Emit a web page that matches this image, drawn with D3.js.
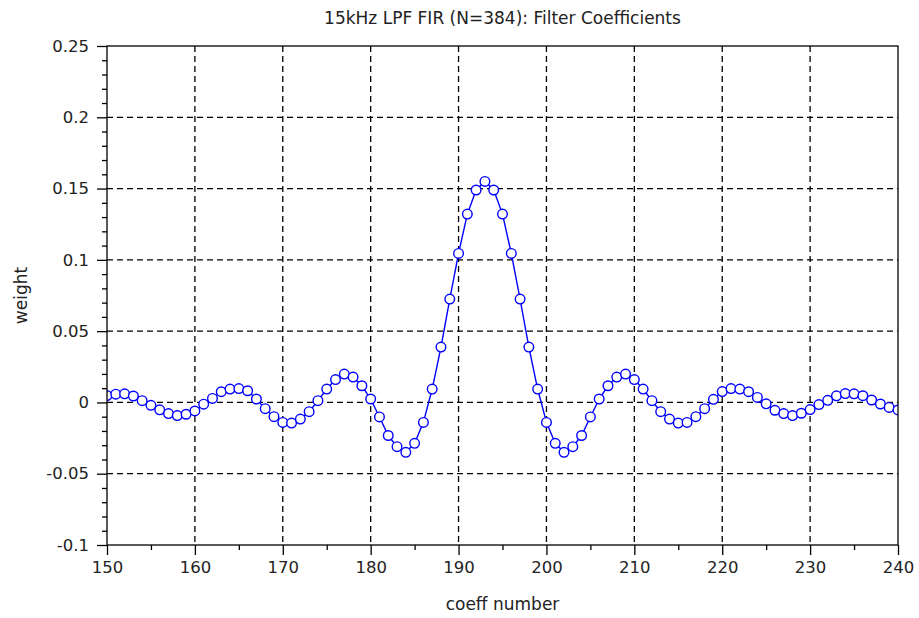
<!DOCTYPE html>
<html>
<head>
<meta charset="utf-8">
<script src="https://cdn.jsdelivr.net/npm/d3@7"></script>
<style>
  html, body { margin: 0; padding: 0; background: #fff; }
  svg text { font-family: "DejaVu Sans", sans-serif; fill: #222; }
</style>
</head>
<body>
<svg id="chart" width="919" height="618"></svg>
<script>
// ---- data ----
const coeffIndex = d3.range(150, 241);
const weights = [
  0.0048, 0.0058, 0.0060, 0.0045, 0.0012, -0.0020, -0.0052, -0.0078, -0.0092, -0.0083,
  -0.0060, -0.0012, 0.0028, 0.0075, 0.0094, 0.0097, 0.0082, 0.0024, -0.0044, -0.0100,
  -0.0140, -0.0145, -0.0117, -0.0065, 0.0012, 0.0094, 0.0160, 0.0199, 0.0178, 0.0117,
  0.0024, -0.0102, -0.0232, -0.0310, -0.0350, -0.0287, -0.0140, 0.0094, 0.0388, 0.0725,
  0.1045, 0.1321, 0.1490, 0.1550, 0.1490, 0.1321, 0.1045, 0.0725, 0.0388, 0.0094,
  -0.0140, -0.0287, -0.0350, -0.0310, -0.0232, -0.0102, 0.0024, 0.0117, 0.0178, 0.0199,
  0.0160, 0.0094, 0.0012, -0.0065, -0.0117, -0.0145, -0.0140, -0.0100, -0.0044, 0.0022,
  0.0076, 0.0097, 0.0094, 0.0075, 0.0035, -0.0010, -0.0055, -0.0078, -0.0092, -0.0076,
  -0.0050, -0.0015, 0.0015, 0.0046, 0.0062, 0.0060, 0.0047, 0.0017, -0.0011, -0.0035,
  -0.0053
];
const xTicks = [150, 160, 170, 180, 190, 200, 210, 220, 230, 240];
const xMinorTicks = [155, 165, 175, 185, 195, 205, 215, 225, 235];
const yTicks = [-0.1, -0.05, 0, 0.05, 0.1, 0.15, 0.2, 0.25];
const yTickLabels = ["-0.1", "-0.05", "0", "0.05", "0.1", "0.15", "0.2", "0.25"];
const yMinorTicks = d3.range(-9, 25).filter(k => k % 5 !== 0).map(k => k / 100);
const titleText = "15kHz LPF FIR (N=384): Filter Coefficients";
const xLabel = "coeff number";
const yLabel = "weight";

// ---- layout ----
const L = 107, R = 898, T = 46, B = 545;
const svg = d3.select("#chart");
const x = d3.scaleLinear().domain([150, 240]).range([L, R]);
const y = d3.scaleLinear().domain([-0.1, 0.25]).range([B, T]);

// grid
const grid = svg.append("g").attr("stroke", "#000").attr("stroke-width", 1.3)
  .attr("stroke-dasharray", "6,4").attr("fill", "none");
xTicks.slice(1, -1).forEach(v => {
  grid.append("line").attr("x1", x(v)).attr("x2", x(v)).attr("y1", T).attr("y2", B);
});
yTicks.slice(1, -1).forEach(v => {
  grid.append("line").attr("x1", L).attr("x2", R).attr("y1", y(v)).attr("y2", y(v));
});

// clip
svg.append("clipPath").attr("id", "clip").append("rect")
  .attr("x", L).attr("y", T).attr("width", R - L).attr("height", B - T);

const pts = coeffIndex.map((n, i) => [n, weights[i]]);
const plot = svg.append("g").attr("clip-path", "url(#clip)");
plot.append("path").datum(pts)
  .attr("fill", "none").attr("stroke", "#0000ff").attr("stroke-width", 1.4)
  .attr("d", d3.line().x(d => x(d[0])).y(d => y(d[1])));
plot.selectAll("circle").data(pts).join("circle")
  .attr("cx", d => x(d[0])).attr("cy", d => y(d[1])).attr("r", 4.8)
  .attr("fill", "#fff").attr("stroke", "#0000ff").attr("stroke-width", 1.4);

// frame
svg.append("rect").attr("x", L).attr("y", T).attr("width", R - L).attr("height", B - T)
  .attr("fill", "none").attr("stroke", "#000").attr("stroke-width", 1.3);

// x axis
const xAxis = d3.axisBottom(x).tickValues(xTicks).tickSize(10).tickPadding(6).tickFormat(d3.format("d"));
const gx = svg.append("g").attr("transform", `translate(0,${B})`).call(xAxis);
gx.select(".domain").remove();
gx.selectAll("text").attr("font-size", 16.5).attr("fill", "#222");
const xMinor = d3.axisBottom(x).tickValues(xMinorTicks).tickSize(5).tickFormat("");
const gxm = svg.append("g").attr("transform", `translate(0,${B})`).call(xMinor);
gxm.select(".domain").remove();

// y axis
const yAxis = d3.axisLeft(y).tickValues(yTicks).tickSize(10).tickPadding(8)
  .tickFormat((d, i) => yTickLabels[i]);
const gy = svg.append("g").attr("transform", `translate(${L},0)`).call(yAxis);
gy.select(".domain").remove();
gy.selectAll("text").attr("font-size", 16.5).attr("fill", "#222");
const yMinor = d3.axisLeft(y).tickValues(yMinorTicks).tickSize(5).tickFormat("");
const gym = svg.append("g").attr("transform", `translate(${L},0)`).call(yMinor);
gym.select(".domain").remove();

svg.selectAll(".tick line").attr("stroke", "#000").attr("stroke-width", 1.3);

// labels
svg.append("text").attr("x", (L + R) / 2).attr("y", 24).attr("text-anchor", "middle")
  .attr("font-size", 17).text(titleText);
svg.append("text").attr("x", (L + R) / 2).attr("y", 610).attr("text-anchor", "middle")
  .attr("font-size", 17).text(xLabel);
svg.append("text").attr("transform", `translate(27,${(T + B) / 2}) rotate(-90)`)
  .attr("text-anchor", "middle").attr("font-size", 17).text(yLabel);
</script>
</body>
</html>
